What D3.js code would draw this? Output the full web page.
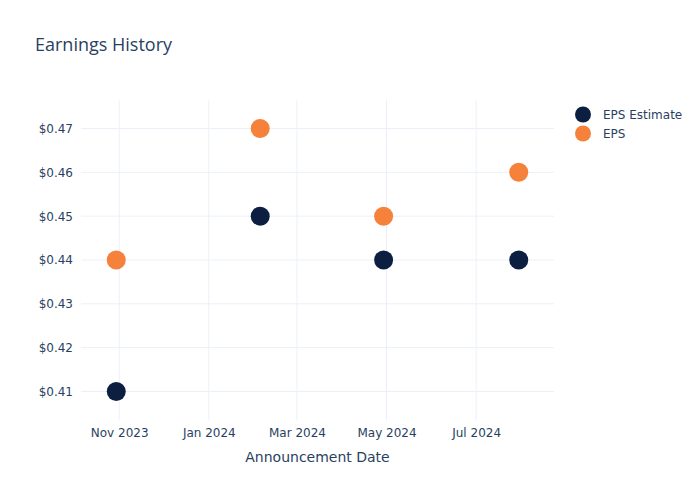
<!DOCTYPE html>
<html><head><meta charset="utf-8">
<script src="https://cdn.jsdelivr.net/npm/d3@7"></script>
<style>body{margin:0;background:#fff}svg{display:block}</style>
</head><body><svg id="c" width="700" height="500"></svg>
<script>
const dates = ["2023-10-30","2024-02-05","2024-04-29","2024-07-30"];
const epsEstimate = [0.41, 0.45, 0.44, 0.44];
const eps = [0.44, 0.47, 0.45, 0.46];
const seriesNames = ["EPS Estimate", "EPS"];
const seriesColors = ["#0c1f40", "#f5813a"];
const xTicks = ["2023-11-01","2024-01-01","2024-03-01","2024-05-01","2024-07-01"];
const yTicks = [0.41,0.42,0.43,0.44,0.45,0.46,0.47];

const svg = d3.select("#c");
const parse = d3.utcParse("%Y-%m-%d");
const L=81, R=554, T=100.5, B=420.5;
const x = d3.scaleUtc().domain([parse("2023-10-06"), parse("2024-08-23")]).range([L,R]);
const y = d3.scaleLinear().domain([0.40338, 0.47639]).range([B,T]);
const txt = "#2a3f5f", grid = "#ebf0f8";
const font = "'DejaVu Sans', sans-serif";

svg.append("g").selectAll("line").data(yTicks).join("line")
  .attr("x1",L).attr("x2",R).attr("y1",d=>y(d)).attr("y2",d=>y(d))
  .attr("stroke",grid).attr("stroke-width",1);
svg.append("g").selectAll("line").data(xTicks).join("line")
  .attr("y1",T).attr("y2",B).attr("x1",d=>x(parse(d))).attr("x2",d=>x(parse(d)))
  .attr("stroke",grid).attr("stroke-width",1);

const yAxis = d3.axisLeft(y).tickValues(yTicks).tickFormat(d=>"$"+d.toFixed(2)).tickSize(0).tickPadding(8);
const gy = svg.append("g").attr("transform",`translate(${L},0)`).call(yAxis);
gy.select(".domain").remove();
gy.selectAll("text").attr("fill",txt).style("font-family",font).style("font-size","12px");

const xAxis = d3.axisBottom(x).tickValues(xTicks.map(parse)).tickFormat(d3.utcFormat("%b %Y")).tickSize(0).tickPadding(8);
const gx = svg.append("g").attr("transform",`translate(0,${B})`).call(xAxis);
gx.select(".domain").remove();
gx.selectAll("text").attr("fill",txt).style("font-family",font).style("font-size","12px");

const series = [epsEstimate, eps];
series.forEach((vals,i)=>{
  svg.append("g").selectAll("circle").data(vals).join("circle")
    .attr("cx",(d,j)=>x(parse(dates[j]))).attr("cy",d=>y(d)).attr("r",9.5)
    .attr("fill",seriesColors[i]);
});

svg.append("text").attr("x",35).attr("y",51).text("Earnings History")
  .attr("fill",txt).style("font-family","'Open Sans', sans-serif").style("font-size","18px");
svg.append("text").attr("x",(L+R)/2).attr("y",462).attr("text-anchor","middle").text("Announcement Date")
  .attr("fill",txt).style("font-family",font).style("font-size","14px");

const lg = svg.append("g");
seriesNames.forEach((n,i)=>{
  lg.append("circle").attr("cx",583).attr("cy",114.5+i*19).attr("r",8).attr("fill",seriesColors[i]);
  lg.append("text").attr("x",603).attr("y",119+i*19).text(n).attr("fill",txt)
    .style("font-family",font).style("font-size","12px");
});
</script></body></html>
